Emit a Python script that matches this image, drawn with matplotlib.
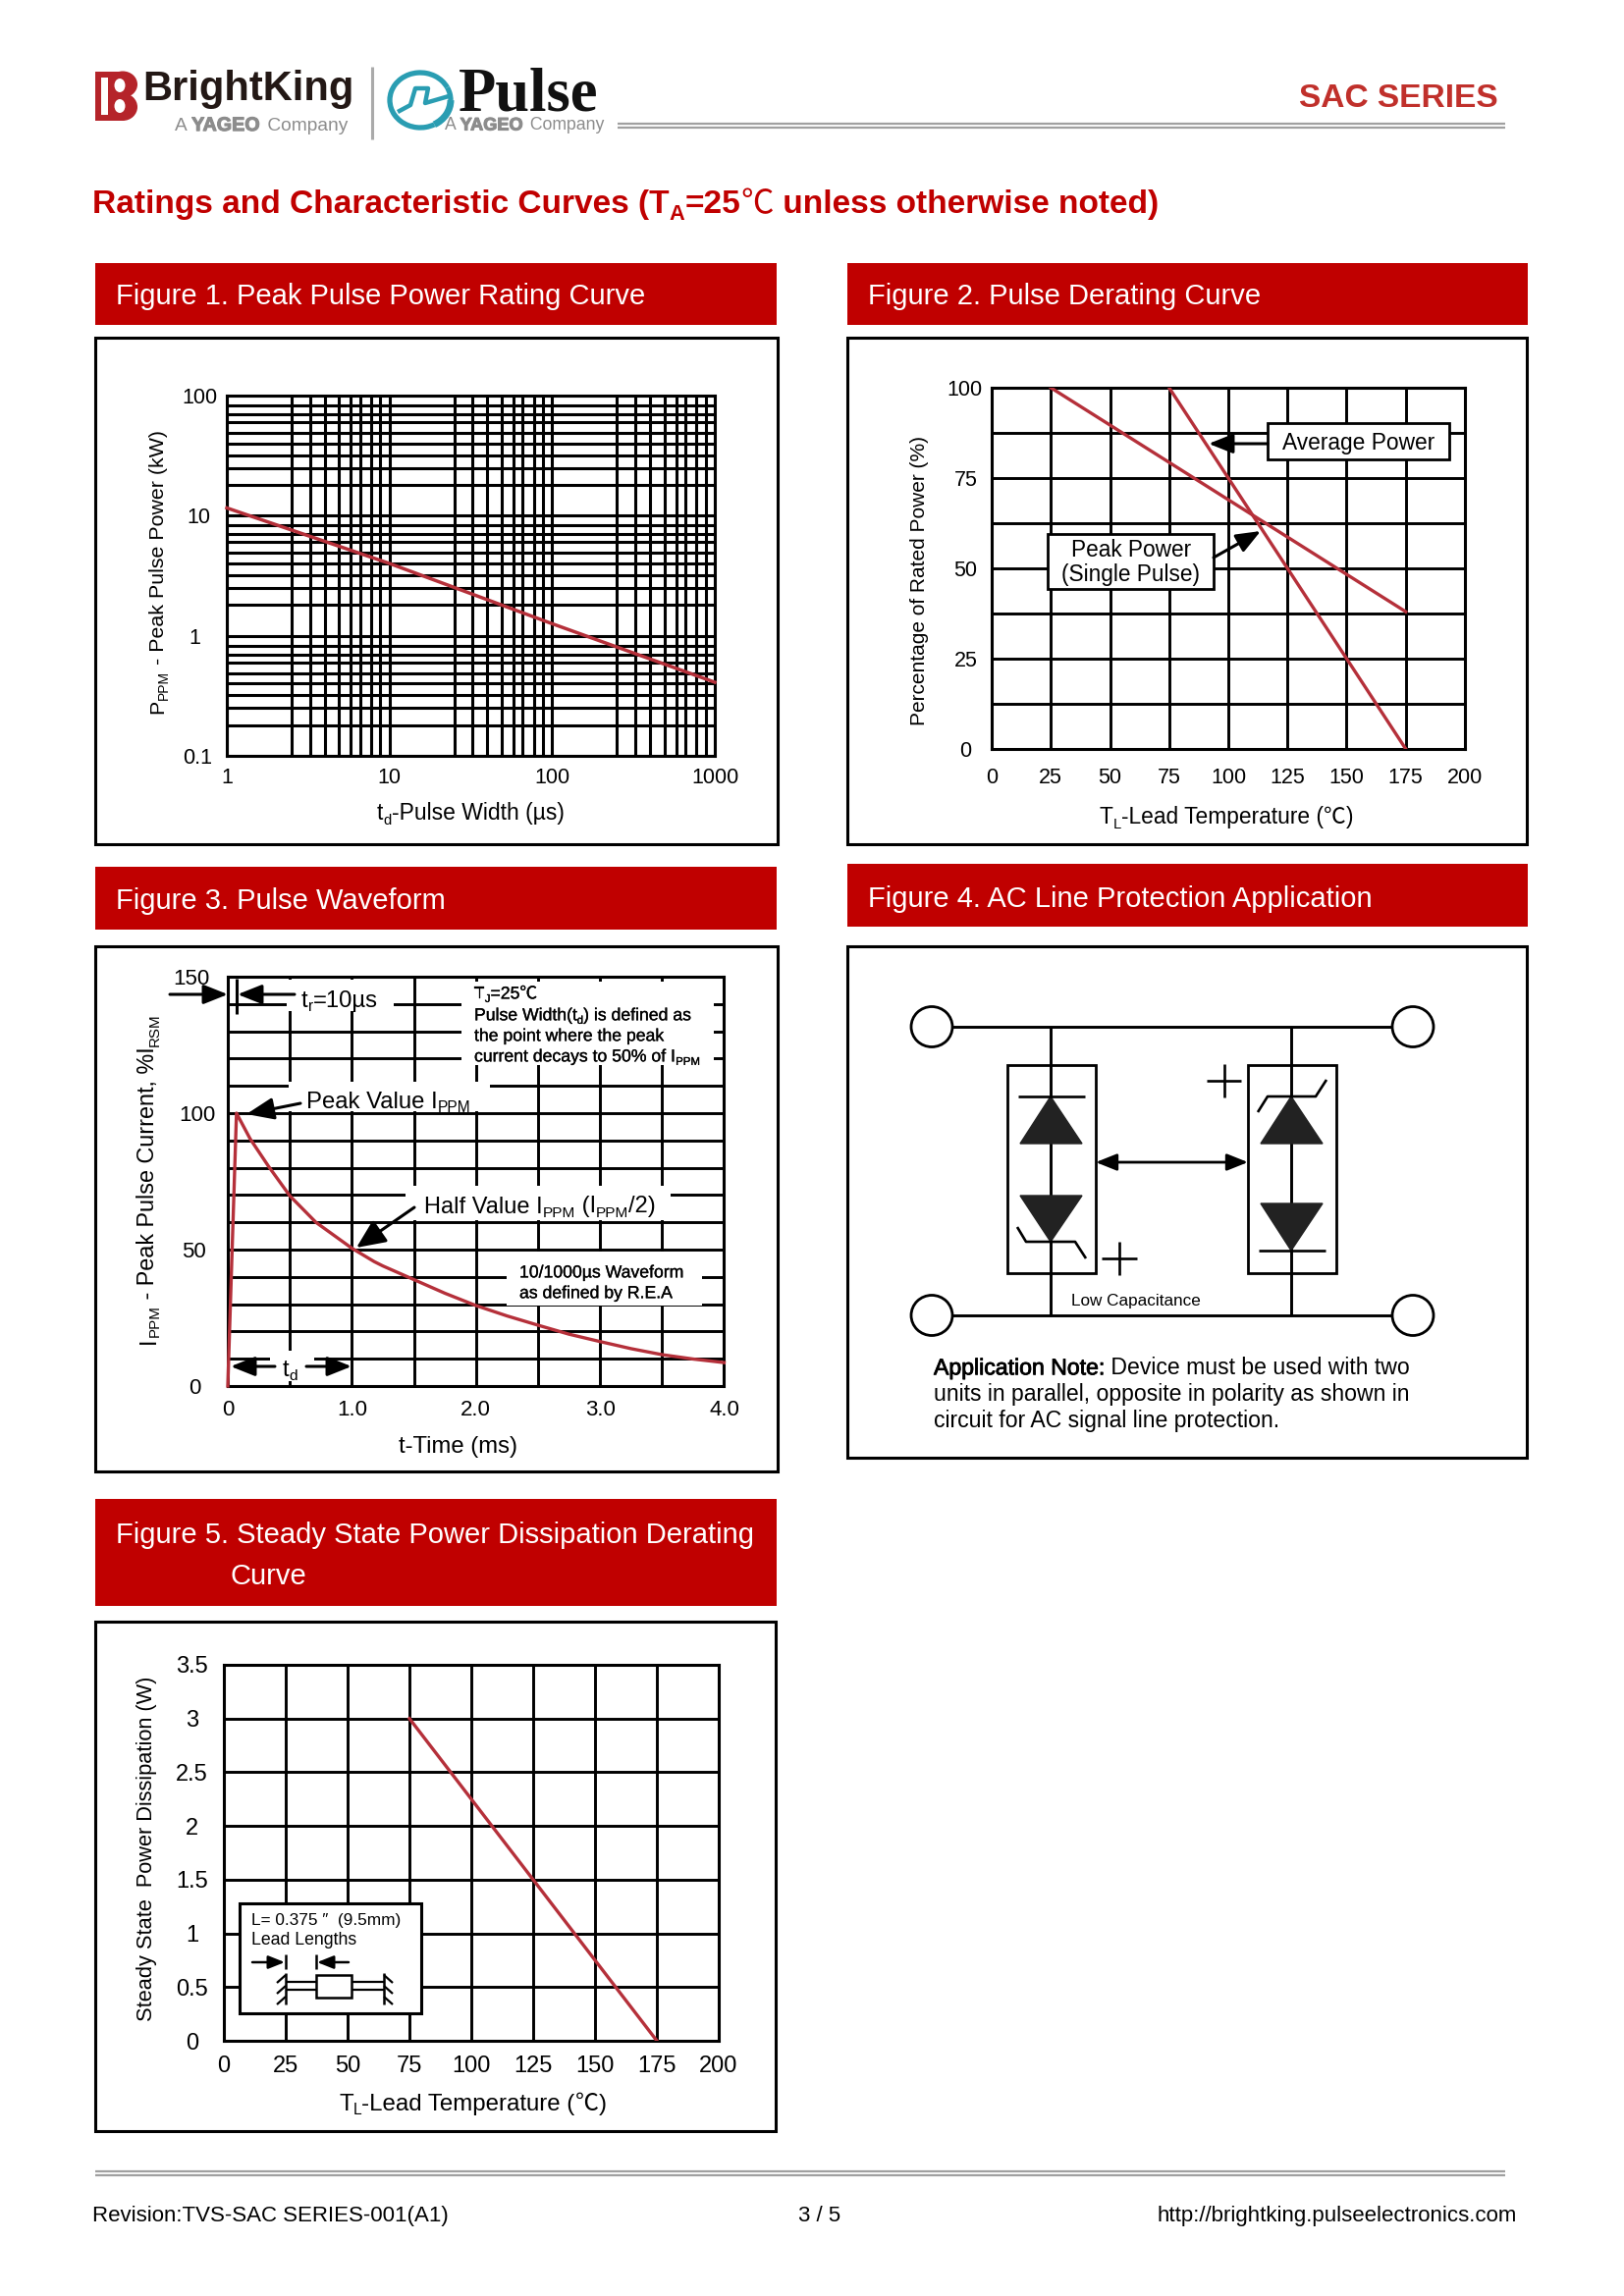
#!/usr/bin/env python3
"""Ratings and characteristic curves page of the SAC series datasheet."""

import matplotlib
matplotlib.use("Agg")
import matplotlib.pyplot as plt
from matplotlib.patches import Rectangle, Ellipse, Polygon, Arc
from matplotlib.ticker import NullFormatter
import matplotlib.patheffects as pe

plt.rcParams['font.family'] = ['Liberation Sans', 'Noto Sans CJK SC', 'DejaVu Sans']

W, H = 1654, 2339
RED = '#C00000'
CURVE = '#B5303A'
TEAL = '#2A9DB2'
GREY = '#8C8C8C'
CJK = 'Noto Sans CJK SC'

# Figure 1
pw_time = [1, 10, 100, 1000]
pw_power = [11.6, 4.0, 1.26, 0.41]
pw_xticks = [1, 10, 100, 1000]
pw_yticks = [0.1, 1, 10, 100]
pw_xminor = [2.5, 3.25, 4, 4.9, 5.8, 6.6, 7.7, 8.8]
pw_yminor = [1.8, 2.5, 3.2, 4, 4.9, 6, 7, 8.3]
pw_decades = [0.1, 1, 10, 100]

# Figure 2
derate_x = [0, 25, 50, 75, 100, 125, 150, 175, 200]
derate_ygrid = [0, 12.5, 25, 37.5, 50, 62.5, 75, 87.5, 100]
derate_yticks = [0, 25, 50, 75, 100]
peak_temp = [25, 175]
peak_pct = [100, 38]
avg_temp = [75, 175]
avg_pct = [100, 0]

# Figure 3
wave_t = [0, 0.07, 0.18, 0.33, 0.5, 0.71, 1.0, 1.18, 1.25, 1.5, 1.75, 2.0,
          2.25, 2.5, 2.75, 3.0, 3.25, 3.5, 3.75, 4.0]
wave_i = [0, 100, 90.6, 80.4, 69.7, 60, 50.5, 45.6, 44, 39, 34, 29.5,
          25.7, 22.3, 19, 16.3, 13.7, 11.5, 9.9, 8.6]
wave_xgrid = [0, 0.5, 1, 1.5, 2, 2.5, 3, 3.5, 4]
wave_ygrid = list(range(0, 160, 10))
wave_xticks = [0, 1, 2, 3, 4]
wave_xlabels = ['0', '1.0', '2.0', '3.0', '4.0']
wave_yticks = [0, 50, 100, 150]

# Figure 5
ss_temp = [75, 175]
ss_power = [3, 0]
ss_yticks = [0, 0.5, 1, 1.5, 2, 2.5, 3, 3.5]
ss_ylabels = ['0', '0.5', '1', '1.5', '2', '2.5', '3', '3.5']

fig = plt.figure(figsize=(W / 100, H / 100), dpi=100, facecolor='white')
renderer = fig.canvas.get_renderer()

# page overlay in pixel coordinates, y downwards
over = fig.add_axes([0, 0, 1, 1], zorder=0)
over.set_xlim(0, W)
over.set_ylim(H, 0)
over.axis('off')
PX = over.transData


def text_w(s, size, weight='normal', family=None):
    kw = {'family': family} if family else {}
    a = fig.text(0, 0, 'x' + s + 'x', fontsize=size, fontweight=weight, **kw)
    b = fig.text(0, 0, 'xx', fontsize=size, fontweight=weight, **kw)
    w = a.get_window_extent(renderer).width - b.get_window_extent(renderer).width
    a.remove()
    b.remove()
    return w


def runs(x, yc, parts, size, rot=0, color='k', weight='normal', family=None,
         target=None, stroke=0, z=6):
    """Text with subscripts. parts are strings, or (string, True) for a subscript."""
    target = target or over
    em = size * 100 / 72
    pos = x if rot == 0 else yc
    for part in parts:
        s, sub = (part, False) if isinstance(part, str) else part
        fs = size * 0.65 if sub else size
        off = 0.36 * em + (0.2 * em if sub else 0)
        if rot == 0:
            px, py = pos, yc + off
        else:
            px, py = x + off, pos
        kw = {'family': family} if family else {}
        t = target.text(px, py, s, fontsize=fs, color=color, fontweight=weight,
                        rotation=rot, rotation_mode='anchor', ha='left', va='baseline',
                        transform=PX, clip_on=False, zorder=z, **kw)
        if stroke:
            t.set_path_effects([pe.withStroke(linewidth=stroke, foreground=color)])
        adv = text_w(s, fs, weight, family)
        pos = pos + adv if rot == 0 else pos - adv


def seg(target, xs, ys, lw=2.1, color='k', z=5):
    target.plot(xs, ys, color=color, lw=lw, transform=PX, clip_on=False, zorder=z,
                solid_capstyle='butt', scalex=False, scaley=False)


def arrow(target, p0, p1, hl=1.0, hw=0.4, ms=15, lw=2.2, style='-|>', z=5):
    target.annotate('', xy=p1, xytext=p0, xycoords=PX, textcoords=PX, zorder=z,
                    annotation_clip=False,
                    arrowprops=dict(arrowstyle=f'{style},head_length={hl},head_width={hw}',
                                    mutation_scale=ms, lw=lw, color='k',
                                    shrinkA=0, shrinkB=0))


def patch(target, x0, y0, x1, y1, edge='none', lw=0, z=1):
    target.add_patch(Rectangle((x0, y0), x1 - x0, y1 - y0, facecolor='white', edgecolor=edge,
                               lw=lw, transform=PX, clip_on=False, zorder=z))


def chart(x0, y0, x1, y1):
    ax = fig.add_axes([x0 / W, 1 - y1 / H, (x1 - x0) / W, (y1 - y0) / H], zorder=2)
    ax.patch.set_alpha(0)
    ax.set_axisbelow(True)
    for sp in ax.spines.values():
        sp.set_linewidth(2.2)
    ax.tick_params(which='both', length=0)
    return ax


def panel(x0, y0, x1, y1):
    over.add_patch(Rectangle((x0, y0), x1 - x0, y1 - y0, facecolor='white', edgecolor='k', lw=2.2))


def header(x0, y0, x1, y1):
    over.add_patch(Rectangle((x0, y0), x1 - x0, y1 - y0, facecolor=RED, edgecolor='none'))


def yageo_line(x, yc, size):
    runs(x, yc, ['A '], size, color=GREY)
    adv = text_w('A ', size)
    runs(x + adv, yc, ['YAGEO'], size * 1.03, color=GREY, weight='bold', stroke=0.8)
    adv += text_w('YAGEO', size * 1.03, 'bold') + 2
    runs(x + adv, yc, [' Company'], size, color=GREY)


def lead_temp_label(x, yc, size):
    runs(x, yc, ['T', ('L', True), '-Lead Temperature ('], size)
    adv = text_w('T', size) + text_w('L', size * .65) + text_w('-Lead Temperature (', size)
    runs(x + adv, yc, ['℃'], size, family=CJK)
    adv += text_w('℃', size, family=CJK)
    runs(x + adv, yc, [')'], size)


# ---------------------------------------------------
# Page header
# ---------------------------------------------------
over.add_patch(Rectangle((97, 73), 29, 50, facecolor='#B5242A', edgecolor='none'))
over.add_patch(Ellipse((125, 86), 30, 27, facecolor='#B5242A', edgecolor='none'))
over.add_patch(Ellipse((125, 109), 30, 28, facecolor='#B5242A', edgecolor='none'))
over.add_patch(Rectangle((103, 79), 7, 38, facecolor='white', edgecolor='none'))
over.add_patch(Ellipse((122, 87), 11, 14, facecolor='white', edgecolor='none'))
over.add_patch(Ellipse((122, 108), 11, 14, facecolor='white', edgecolor='none'))
runs(145, 87, ['BrightKing'], 30, color='#231815', weight='bold')
yageo_line(178, 126, 13.8)
seg(over, [379, 379], [68, 142], lw=2.2, color='#AAAAAA')

over.add_patch(Arc((428, 102), 62, 56, theta1=60, theta2=335, lw=3.8, color=TEAL))
over.add_patch(Arc((428, 102), 62, 56, theta1=335, theta2=360, lw=3.8, color=TEAL))
over.add_patch(Arc((428, 102), 62, 56, theta1=0, theta2=60, lw=5, color=TEAL))
seg(over, [405, 418, 423, 436, 433, 457], [114, 107, 90, 90, 105, 98], lw=3.2, color=TEAL)
runs(467, 90, ['Pulse'], 45, color='#111111', weight='bold', family='Liberation Serif')
yageo_line(453, 126, 12.7)

seg(over, [629, 1533], [125.5, 125.5], lw=1.6, color='#A0A0A0')
seg(over, [629, 1533], [129.5, 129.5], lw=1.6, color='#A0A0A0')
runs(1323, 97, ['SAC SERIES'], 24.1, color='#C0302B', weight='bold')

TS = 24.1
runs(94, 205, ['Ratings and Characteristic Curves (T', ('A', True), '=25'], TS,
     color=RED, weight='bold')
t_adv = (text_w('Ratings and Characteristic Curves (T', TS, 'bold')
         + text_w('A', TS * 0.65, 'bold') + text_w('=25', TS, 'bold'))
runs(94 + t_adv, 205, ['℃'], TS, color=RED, family=CJK)
t_adv += text_w('℃', TS, family=CJK)
runs(94 + t_adv, 205, [' unless otherwise noted)'], TS, color=RED, weight='bold')

# ---------------------------------------------------
# Headers and frames
# ---------------------------------------------------
header(97, 268, 791, 331)
header(863, 268, 1556, 331)
header(97, 883, 791, 947)
header(863, 880, 1556, 944)
header(97, 1527, 791, 1636)
runs(118, 300, ['Figure 1. Peak Pulse Power Rating Curve'], 21, color='white')
runs(884, 300, ['Figure 2. Pulse Derating Curve'], 21, color='white')
runs(118, 916, ['Figure 3. Pulse Waveform'], 21, color='white')
runs(884, 913, ['Figure 4. AC Line Protection Application'], 21, color='white')
runs(118, 1561, ['Figure 5. Steady State Power Dissipation Derating'], 21, color='white')
runs(234, 1603, ['Curve'], 21, color='white')

panel(97, 344, 792, 860)
panel(863, 344, 1555, 860)
panel(97, 964, 792, 1499)
panel(863, 964, 1555, 1485)
panel(97, 1652, 790, 2171)

# ---------------------------------------------------
# Figure 1
# ---------------------------------------------------
ax1 = chart(231, 403, 728, 770)
ax1.set_xscale('log')
ax1.set_yscale('log')
ax1.set_xlim(1, 1000)
ax1.set_ylim(0.1, 100)
ax1.set_xticks(pw_xticks, [str(v) for v in pw_xticks], fontsize=15.5)
ax1.set_yticks(pw_yticks, ['0.1', '1', '10', '100'], fontsize=15.5)
ax1.set_xticks([m * d for d in pw_decades[1:] for m in pw_xminor], minor=True)
ax1.set_yticks([m * d for d in pw_decades[:-1] for m in pw_yminor], minor=True)
ax1.xaxis.set_minor_formatter(NullFormatter())
ax1.yaxis.set_minor_formatter(NullFormatter())
ax1.grid(True, which='both', color='k', lw=2.2)
ax1.plot(pw_time, pw_power, color=CURVE, lw=2.5, zorder=3, clip_on=False)
ax1.tick_params(axis='x', which='major', pad=9)
for tick, p in zip(ax1.yaxis.get_major_ticks(), [11, 19, 12, 7]):
    tick.set_pad(p)
runs(384, 827, ['t', ('d', True), '-Pulse Width (µs)'], 16.5)
runs(159, 727, ['P', ('PPM', True), ' - Peak Pulse Power (kW)'], 15.4, rot=90)

# ---------------------------------------------------
# Figure 2
# ---------------------------------------------------
ax2 = chart(1010, 395, 1492, 763)
ax2.set_xlim(0, 200)
ax2.set_ylim(0, 100)
ax2.set_xticks(derate_x, [str(v) for v in derate_x], fontsize=15.5)
ax2.set_yticks(derate_ygrid, minor=True)
ax2.set_yticks(derate_yticks, [str(v) for v in derate_yticks], fontsize=15.5)
ax2.yaxis.set_minor_formatter(NullFormatter())
ax2.grid(True, which='both', color='k', lw=2.1)
ax2.plot(peak_temp, peak_pct, color=CURVE, lw=2.4, zorder=3)
ax2.plot(avg_temp, avg_pct, color=CURVE, lw=2.4, zorder=3)
ax2.tick_params(axis='x', pad=14)
for tick, p in zip(ax2.yaxis.get_major_ticks(), [15, 10, 11, 10, 7]):
    tick.set_pad(p)
patch(ax2, 1291, 431, 1476, 468, edge='k', lw=2.0, z=4)
patch(ax2, 1067, 544, 1236, 600, edge='k', lw=2.0, z=4)
arrow(ax2, (1291, 452), (1231, 452))
arrow(ax2, (1236, 568), (1284, 541))
runs(1306, 450, ['Average Power'], 16.4, target=ax2)
runs(1091, 559, ['Peak Power'], 16.3, target=ax2)
runs(1081, 584, ['(Single Pulse)'], 16.3, target=ax2)
runs(934, 739, ['Percentage of Rated Power (%)'], 15, rot=90)
lead_temp_label(1120, 831, 16.4)

# ---------------------------------------------------
# Figure 3
# ---------------------------------------------------
ax3 = chart(232, 995, 737.5, 1412)
ax3.set_xlim(0, 4)
ax3.set_ylim(0, 150)
ax3.set_xticks(wave_xgrid, minor=True)
ax3.set_yticks(wave_ygrid, minor=True)
ax3.set_xticks(wave_xticks, wave_xlabels, fontsize=16)
ax3.set_yticks(wave_yticks, [str(v) for v in wave_yticks], fontsize=16)
ax3.xaxis.set_minor_formatter(NullFormatter())
ax3.yaxis.set_minor_formatter(NullFormatter())
ax3.grid(True, which='both', color='k', lw=2.1)
ax3.plot(wave_t, wave_i, color=CURVE, lw=2.4, zorder=3, clip_on=False)
ax3.tick_params(axis='x', pad=10)
for tick, p in zip(ax3.yaxis.get_major_ticks(), [20, 16, 9, 13]):
    tick.set_pad(p)

# white boxes that cut the grid behind the annotations
patch(ax3, 292, 998, 401, 1030)
patch(ax3, 470, 1000, 727, 1085)
patch(ax3, 294, 1102, 499, 1132)
patch(ax3, 413, 1208, 683, 1243)
patch(ax3, 516, 1275, 715, 1330)
patch(ax3, 275, 1376, 320, 1407)

arrow(ax3, (173, 1013), (232, 1013))
arrow(ax3, (300, 1013), (242, 1013))
seg(ax3, [240.7, 240.7], [997, 1033], lw=2.2)
arrow(ax3, (306, 1124), (251, 1135), ms=17)
arrow(ax3, (422, 1230), (363, 1271), ms=18, hw=0.45)
arrow(ax3, (280, 1392), (235, 1392))
arrow(ax3, (312, 1392), (358, 1392))
runs(307, 1017, ['t', ('r', True), '=10µs'], 17.2, target=ax3)
runs(312, 1120, ['Peak Value I', ('PPM', True)], 17.2, target=ax3)
runs(432, 1227, ['Half Value I', ('PPM', True), ' (I', ('PPM', True), '/2)'], 17, target=ax3)
runs(288, 1393, ['t', ('d', True)], 17, target=ax3)
runs(483, 1011, ['T', ('J', True), '=25℃'], 12.7, target=ax3, stroke=0.2)
runs(483, 1033, ['Pulse Width(t', ('d', True), ') is defined as'], 12.7, target=ax3, stroke=0.2)
runs(483, 1054, ['the point where the peak'], 12.7, target=ax3, stroke=0.2)
runs(483, 1075, ['current decays to 50% of I', ('PPM', True)], 12.7, target=ax3, stroke=0.2)
runs(529, 1295, ['10/1000µs Waveform'], 12.7, target=ax3, stroke=0.2)
runs(529, 1316, ['as defined by R.E.A'], 12.7, target=ax3, stroke=0.2)
runs(149, 1369, ['I', ('PPM', True), ' - Peak Pulse Current, %I', ('RSM', True)], 16.8, rot=90)
runs(406, 1471, ['t-Time (ms)'], 17.2)

# ---------------------------------------------------
# Figure 4, circuit
# ---------------------------------------------------
for cx, cy in [(949, 1046), (1439, 1046), (949, 1340), (1439, 1340)]:
    over.add_patch(Ellipse((cx, cy), 42, 41, facecolor='white', edgecolor='k', lw=2.0, zorder=4))
seg(over, [969, 1417], [1046, 1046], z=3)
seg(over, [969, 1417], [1340, 1340], z=3)
seg(over, [1070, 1070], [1046, 1340], z=3)
seg(over, [1315, 1315], [1046, 1340], z=3)
for bx0, bx1 in [(1026, 1116), (1271, 1361)]:
    over.add_patch(Rectangle((bx0, 1085), bx1 - bx0, 212, facecolor='none', edgecolor='k', lw=2.0, zorder=3))
dark = '#222222'
over.add_patch(Polygon([(1070, 1117), (1039, 1165), (1102, 1165)], color=dark, zorder=4))
over.add_patch(Polygon([(1039, 1218), (1102, 1218), (1070, 1265)], color=dark, zorder=4))
over.add_patch(Polygon([(1315, 1117), (1284, 1165), (1347, 1165)], color=dark, zorder=4))
over.add_patch(Polygon([(1284, 1226), (1347, 1226), (1315, 1274)], color=dark, zorder=4))
seg(over, [1037, 1105], [1117, 1117], lw=1.9)
seg(over, [1036, 1045, 1095, 1106], [1250, 1265, 1265, 1282], lw=1.9)
seg(over, [1281, 1291, 1340, 1351], [1133, 1117, 1117, 1100], lw=1.9)
seg(over, [1282, 1350], [1274, 1274], lw=1.9)
seg(over, [1122, 1158], [1282, 1282], lw=1.9)
seg(over, [1140, 1140], [1265, 1299], lw=1.9)
seg(over, [1229, 1264], [1101, 1101], lw=1.9)
seg(over, [1247, 1247], [1084, 1118], lw=1.9)
arrow(over, (1116, 1184), (1271, 1184), style='<|-|>', ms=13, lw=2.0)
runs(1091, 1324, ['Low Capacitance'], 12.3)
runs(951, 1392, ['Application Note:'], 16.6, stroke=0.6)
runs(951 + text_w('Application Note:', 16.6), 1392, [' Device must be used with two'], 16.6)
runs(951, 1418.5, ['units in parallel, opposite in polarity as shown in'], 16.6)
runs(951, 1446, ['circuit for AC signal line protection.'], 16.6)

# ---------------------------------------------------
# Figure 5
# ---------------------------------------------------
ax5 = chart(228, 1696, 732, 2079)
ax5.set_xlim(0, 200)
ax5.set_ylim(0, 3.5)
ax5.set_xticks(derate_x, [str(v) for v in derate_x], fontsize=17)
ax5.set_yticks(ss_yticks, ss_ylabels, fontsize=17)
ax5.grid(True, color='k', lw=2.1)
ax5.plot(ss_temp, ss_power, color=CURVE, lw=2.4, zorder=3)
ax5.tick_params(axis='x', pad=11)
ax5.tick_params(axis='y', pad=0)
for lab in ax5.get_yticklabels():
    lab.set_ha('center')
    lab.set_x(-0.064)
patch(ax5, 244, 1939, 429, 2051, edge='k', lw=2.2, z=4)
runs(256, 1955, ['L= 0.375 ″  (9.5mm)'], 12.4, target=ax5)
runs(256, 1975, ['Lead Lengths'], 12.7, target=ax5)
arrow(ax5, (257, 1999), (290, 1999), ms=10, lw=1.8)
arrow(ax5, (355, 1999), (323, 1999), ms=10, lw=1.8)
seg(ax5, [291, 291], [1991, 2006], lw=1.8)
seg(ax5, [322, 322], [1991, 2006], lw=1.8)
seg(ax5, [291, 291], [2010, 2042], lw=1.8)
seg(ax5, [391, 391], [2010, 2042], lw=1.8)
seg(ax5, [291, 322], [2019, 2019], lw=1.6)
seg(ax5, [291, 322], [2027, 2027], lw=1.6)
seg(ax5, [358, 391], [2019, 2019], lw=1.6)
seg(ax5, [358, 391], [2027, 2027], lw=1.6)
patch(ax5, 322, 2012, 358, 2035, edge='k', lw=1.8, z=5)
for hy in [2012, 2023, 2034]:
    seg(ax5, [291, 282], [hy, hy + 8], lw=1.6)
    seg(ax5, [391, 400], [hy, hy + 8], lw=1.6)
runs(147, 2059, ['Steady State  Power Dissipation (W)'], 15.7, rot=90)
lead_temp_label(345, 2141, 17.3)

# ---------------------------------------------------
# Footer
# ---------------------------------------------------
seg(over, [97, 1533], [2212, 2212], lw=1.6, color='#A0A0A0')
seg(over, [97, 1533], [2215.5, 2215.5], lw=1.6, color='#A0A0A0')
runs(94, 2255, ['Revision:TVS-SAC SERIES-001(A1)'], 16)
runs(813, 2255, ['3 / 5'], 16)
url = 'http://brightking.pulseelectronics.com'
runs(1545 - text_w(url, 16), 2255, [url], 16)

fig.savefig('out.png', dpi=100)
